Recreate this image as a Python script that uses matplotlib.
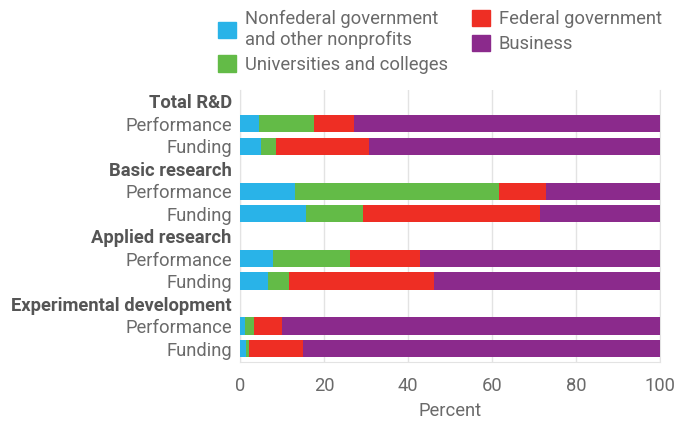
import matplotlib.pyplot as plt
from matplotlib.patches import Patch

plt.rcParams['font.family'] = ['Roboto', 'DejaVu Sans']

rows = ["Total R&D", "Performance", "Funding",
        "Basic research", "Performance", "Funding",
        "Applied research", "Performance", "Funding",
        "Experimental development", "Performance", "Funding"]
headers = [0, 3, 6, 9]

# percent shares per bar row (rows 1,2,4,5,7,8,10,11)
bar_rows = [1, 2, 4, 5, 7, 8, 10, 11]
nonfederal = [4.6, 5.1, 13.2, 15.7, 7.8, 6.6, 1.3, 1.4]
universities = [13.0, 3.5, 48.5, 13.6, 18.4, 5.1, 2.0, 0.7]
federal = [9.5, 22.2, 11.2, 42.1, 16.7, 34.5, 6.7, 12.9]
business = [72.9, 69.2, 27.1, 28.6, 57.1, 53.8, 90.0, 85.0]

names = ["Nonfederal government\nand other nonprofits", "Universities and colleges",
         "Federal government", "Business"]
colors = ["#29b3e8", "#63bb47", "#ee2e24", "#8b2a8c"]

fig = plt.figure(figsize=(6.74, 4.22), dpi=100)
ax = fig.add_axes([240/674, 1 - 362/422, 420/674, 272/422])

left = [0] * len(bar_rows)
for vals, c in zip([nonfederal, universities, federal, business], colors):
    ax.barh(bar_rows, vals, left=left, height=0.77, color=c, zorder=3)
    left = [l + v for l, v in zip(left, vals)]

fs = 13.2
ax.set_xlim(0, 100)
ax.set_ylim(11.6, -0.5)
ax.set_xticks([0, 20, 40, 60, 80, 100])
ax.set_yticks(range(len(rows)))
ax.set_yticklabels(rows)
for i, t in enumerate(ax.get_yticklabels()):
    if i in headers:
        t.set_fontweight('bold')
        t.set_color('#555555')
    else:
        t.set_color('#6a6a6a')
ax.tick_params(axis='y', length=0, pad=6, labelsize=fs)
ax.tick_params(axis='x', length=0, pad=11, labelsize=fs, labelcolor='#6a6a6a')
ax.grid(axis='x', color='#e3e3e3', linewidth=1, zorder=0)
ax.spines['top'].set_visible(False)
for s in ['left', 'right', 'bottom']:
    ax.spines[s].set_color('#e3e3e3')
ax.set_xlabel("Percent", fontsize=fs, color='#6a6a6a', labelpad=5)

handles = [Patch(color=c) for c in colors]
kw = dict(loc='upper left', frameon=False, fontsize=fs, labelcolor='#6a6a6a',
          handlelength=1.0, handleheight=1.0, handletextpad=0.45, labelspacing=0.35,
          borderaxespad=0, borderpad=0)
leg1 = fig.legend(handles[:2], names[:2], bbox_to_anchor=(218/674, 1 - 10/422), **kw)
leg2 = fig.legend(handles[2:], names[2:], bbox_to_anchor=(472/674, 1 - 10/422), **kw)

fig.savefig("out.png", dpi=100)
